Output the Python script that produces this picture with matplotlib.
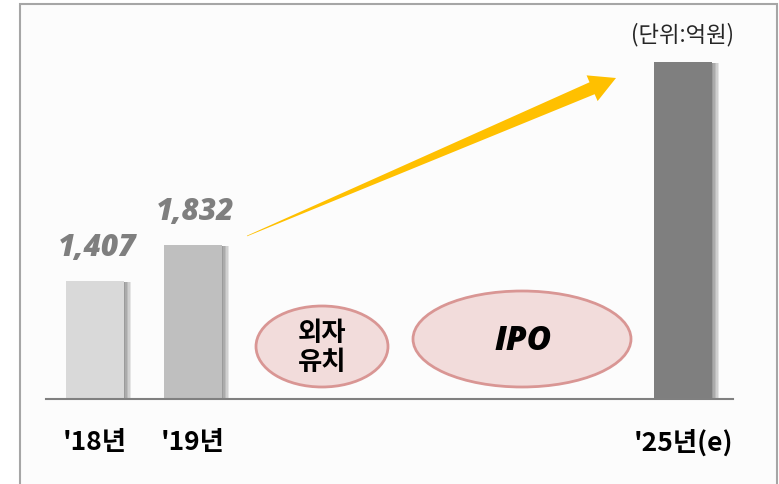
import numpy as np
import matplotlib.pyplot as plt
from matplotlib.patches import Rectangle, Ellipse, Polygon
import matplotlib.patheffects as pe

# data
years = ["'18년", "'19년", "'25년(e)"]
xpos = [0, 1, 6]
sales = [1407, 1832, 4000]          # 억원, last one is an estimate (no label)
value_labels = ['1,407', '1,832', None]
bar_colors = ['#d9d9d9', '#bfbfbf', '#7f7f7f']
steps = ['외자\n유치', 'IPO']

W, H = 779, 485
fig = plt.figure(figsize=(W / 100, H / 100), dpi=100, facecolor='white')

# background layer in pixel coordinates (frame, arrow, ellipses, notes)
bg = fig.add_axes([0, 0, 1, 1], zorder=0)
bg.set_xlim(0, W)
bg.set_ylim(H, 0)
bg.axis('off')

bg.add_patch(Rectangle((20, 5), 757, 500, facecolor='#fcfcfc',
                       edgecolor='#a6a6a6', lw=1.5))

# tapered growth arrow
tail = np.array([247.0, 237.0])
tip = np.array([616.0, 79.0])
u = (tip - tail) / np.linalg.norm(tip - tail)
n = np.array([-u[1], u[0]])
base = tip - 26 * u
arrow_pts = [tail + 0.3 * n, base + 6.5 * n, base + 14 * n, tip,
             base - 14 * n, base - 6.5 * n, tail - 0.3 * n]
bg.add_patch(Polygon(arrow_pts, closed=True, facecolor='#ffc000', edgecolor='none'))

# ellipses with the steps
ell_style = dict(facecolor='#f2dcdb', edgecolor='#d99694', lw=2)
bg.add_patch(Ellipse((322, 347.5), 132, 81, **ell_style))
bg.add_patch(Ellipse((522, 340), 218, 96, **ell_style))
bg.text(322, 348, steps[0], ha='center', va='center', fontsize=19,
        fontweight='bold', family=['Noto Sans CJK KR', 'DejaVu Sans'],
        linespacing=1.05, color='black')
bg.text(523, 341, steps[1], ha='center', va='center', fontsize=24,
        fontweight='heavy', fontstyle='italic', family='Open Sans', color='black')

bg.text(683, 35, '(단위:억원)', ha='center', va='center', fontsize=16,
        family=['Noto Sans CJK KR', 'DejaVu Sans'], color='#262626')

# bar chart
px = 0.0842                              # pixels per 억원
ax = fig.add_axes([46 / W, 85 / H, 687 / W, 4500 * px / H], zorder=1)
ax.patch.set_visible(False)
ax.set_xlim(-0.5, 6.51)
ax.set_ylim(0, 4500)

shadow = [pe.SimplePatchShadow(offset=(k, -0.8), shadow_rgbFace='black', alpha=0.09)
          for k in (1.0, 2.0, 3.0, 4.0, 5.0)] + [pe.Normal()]
bars = ax.bar(xpos, sales, width=0.592, color=bar_colors, zorder=2)
for b in bars:
    b.set_path_effects(shadow)

for x, v, lab in zip(xpos, sales, value_labels):
    if lab:
        ax.text(x + 0.02, v + 400, lab, ha='center', va='center', fontsize=21.5,
                fontweight='heavy', fontstyle='italic', family='Open Sans',
                color='#7f7f7f')

for s in ['top', 'left', 'right']:
    ax.spines[s].set_visible(False)
ax.spines['bottom'].set_color('#808080')
ax.spines['bottom'].set_linewidth(1.5)
ax.spines['bottom'].set_zorder(3)
ax.set_yticks([])
ax.set_xticks(xpos)
ax.set_xticklabels(years, fontsize=19, fontweight='bold',
                   family=['Noto Sans CJK KR', 'DejaVu Sans'])
ax.tick_params(axis='x', length=0, pad=21)

fig.savefig('out.png', dpi=100, facecolor='white')
